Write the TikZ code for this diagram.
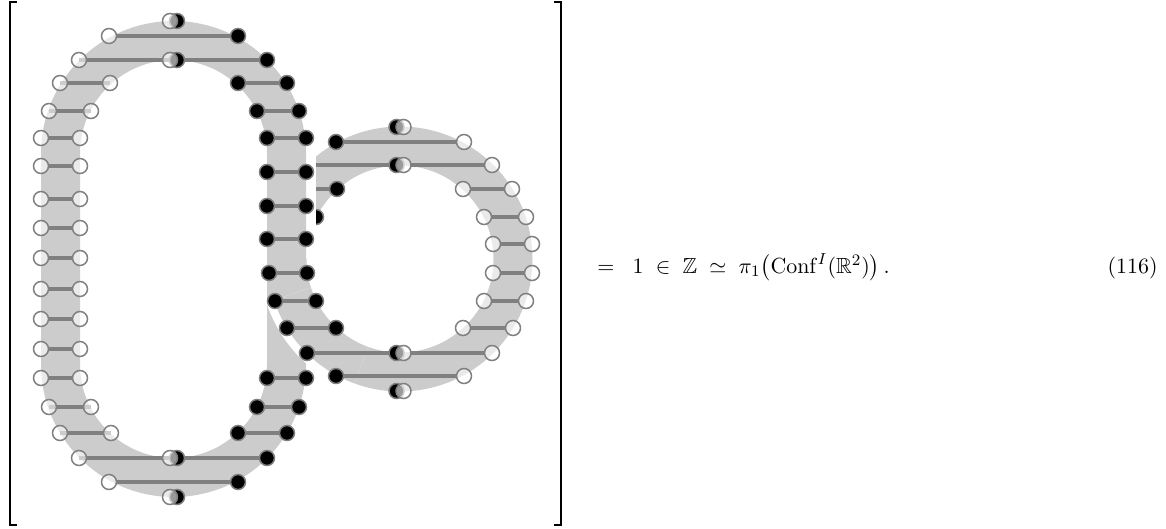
\documentclass[tikz,border=0pt]{standalone}
\usepackage{amsmath,amssymb}
\tikzset{
  band/.style={gray!40, line width=19.5pt},
  halo/.style={white, line width=#1},
  link/.style={gray, line width=2pt, shorten <=3.75pt, shorten >=3.75pt},
  wdot/.style={draw=gray, line width=0.75pt, fill=white, fill opacity=0.6},
  bdot/.style={draw=gray, line width=0.75pt, fill=black},
}
\newcommand{\wpt}[1]{\draw[wdot] (#1) circle (7.5);}
\newcommand{\bpt}[1]{\draw[bdot] (#1) circle (7.5);}
% white on the left, black on the right
\newcommand{\wbpt}[2]{\bpt{#1+3.5,#2}\wpt{#1-3.5,#2}}
% black on the left, white on the right
\newcommand{\bwpt}[2]{\bpt{#1-3.5,#2}\wpt{#1+3.5,#2}}

\begin{document}
\begin{tikzpicture}[x=0.5pt, y=-0.5pt]
  \useasboundingbox (0,0) rectangle (1166,529);
  \draw[line width=1.2pt] (17,2) -- (10,2) -- (10,525) -- (17,525);
  \draw[line width=1.2pt] (554,2) -- (561,2) -- (561,525) -- (554,525);

  % the ring, upper half (under the loop)
  \draw[band] (400,259) circle (113);
  \draw[link] (336,142) -- (464,142);
  \draw[link] (308,165) -- (396.5,165) (403.5,165) -- (492,165);
  \draw[link] (288,189) -- (337,189) (463,189) -- (512,189);
  \draw[link] (275,217) -- (316,217) (484,217) -- (526,217);
  \draw[link] (493,244) -- (532,244);
  \foreach \x/\y in {336/142, 337/189, 316/217} \bpt{\x,\y};
  \foreach \x/\y in {464/142, 492/165, 463/189, 512/189, 484/217, 526/217,
                     493/244, 532/244} \wpt{\x,\y};
  \bwpt{400}{127}
  \bwpt{400}{165}

  % the loop
  \draw[halo=29.5pt] (286.5,153.5) -- (286.5,259);
  \draw[band] (60.5,153.5) -- (60.5,364.5)
    arc[start angle=180, end angle=0, radius=113] -- (286.5,153.5)
    arc[start angle=0, end angle=-180, radius=113] -- cycle;
  \draw[link] (109,36) -- (238,36);
  \draw[link] (79,60) -- (170,60) (177,60) -- (267,60);
  \draw[link] (60,83) -- (110,83) (238,83) -- (287,83);
  \draw[link] (49,111) -- (91,111) (257,111) -- (299,111);
  \foreach \y in {138,166,199,228,258,289,319,349,378}
    \draw[link] (41,\y) -- (80,\y);
  \foreach \y in {138,172,206,239,378}
    \draw[link] (267,\y) -- (306,\y);
  \draw[link] (49,407) -- (91,407) (257,407) -- (299,407);
  \draw[link] (60,433) -- (111,433) (238,433) -- (287,433);
  \draw[link] (79,458) -- (170,458) (177,458) -- (267,458);
  \draw[link] (109,482) -- (238,482);
  \foreach \y in {138,166,199,228,258,289,319,349,378} {
    \wpt{41,\y} \wpt{80,\y}
  }
  \foreach \x/\y in {109/36, 79/60, 60/83, 110/83, 49/111, 91/111,
                     49/407, 91/407, 60/433, 111/433, 79/458, 109/482} \wpt{\x,\y};
  \foreach \y in {138,172,206,239,378} {
    \bpt{267,\y} \bpt{306,\y}
  }
  \foreach \x/\y in {238/36, 267/60, 238/83, 287/83, 257/111, 299/111,
                     257/407, 299/407, 238/433, 287/433, 267/458, 238/482} \bpt{\x,\y};
  \wbpt{173.5}{21}
  \wbpt{173.5}{60}
  \wbpt{173.5}{458}
  \wbpt{173.5}{497}

  % the ring, lower left part (over the loop)
  \draw[halo=27.5pt] (400,259) ++(162:113) arc[start angle=162, end angle=110, radius=113];
  \draw[band] (400,259) ++(162:113) arc[start angle=162, end angle=110, radius=113];
  \draw[link] (269,273) -- (307,273) (493,273) -- (532,273);
  \draw[link] (275,301) -- (316,301) (484,301) -- (526,301);
  \draw[link] (287,328) -- (336,328) (463,328) -- (513,328);
  \draw[link] (307,353) -- (396.5,353) (403.5,353) -- (492,353);
  \draw[link] (336,376) -- (464,376);
  \foreach \x/\y in {269/273, 307/273, 275/301, 316/301, 287/328, 336/328,
                     307/353, 336/376} \bpt{\x,\y};
  \foreach \x/\y in {493/273, 532/273, 484/301, 526/301, 463/328, 513/328,
                     492/353, 464/376} \wpt{\x,\y};
  \bwpt{400}{353}
  \bwpt{400}{391}

  \node[anchor=base west, inner sep=0, font=\fontsize{10.95}{13.6}\selectfont] (eq) at (597,273)
    {$=\;\; 1 \;\in\; \mathbb{Z} \;\simeq\; \pi_1\big(\mathrm{Conf}^I(\mathbb{R}^2)\big)\,.$};
  \node[anchor=base east, inner sep=0, font=\fontsize{10.95}{13.6}\selectfont] (num) at (1158,273) {(116)};
\end{tikzpicture}
\end{document}
